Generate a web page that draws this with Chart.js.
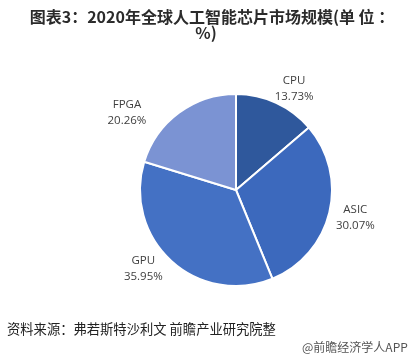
<!DOCTYPE html>
<html lang="zh">
<head>
  <meta charset="UTF-8">
  <title>2020年全球人工智能芯片市场规模</title>
  <script src="https://cdn.jsdelivr.net/npm/chart.js"></script>
  <style>
    html, body { margin: 0; padding: 0; background: #fff; }
    #chartContainer { width: 417px; height: 363px; }
  </style>
</head>
<body>
  <div id="chartContainer">
    <canvas id="myChart"></canvas>
  </div>

  <script>
    const categories = ['CPU', 'ASIC', 'GPU', 'FPGA'];
    const shares = [13.73, 30.07, 35.95, 20.26];
    const sliceColors = ['#2f589c', '#3c69bd', '#4471c4', '#7b93d3'];

    const titleLines = ['图表3：2020年全球人工智能芯片市场规模(单 位 ：', '%)'];
    const sourceText = '资料来源：弗若斯特沙利文 前瞻产业研究院整';
    const brandText = '@前瞻经济学人APP';

    // label block nudges from the outer middle of each slice
    const labelNudge = [[18, -14], [26, 5], [-28, 8], [-52, 0]];

    const textPlugin = {
      id: 'textPlugin',
      afterDraw(chart) {
        const ctx = chart.ctx;
        ctx.save();

        // title
        ctx.fillStyle = '#2b2b2b';
        ctx.textAlign = 'center';
        ctx.textBaseline = 'middle';
        ctx.font = 'bold 16px "Noto Sans CJK SC", sans-serif';
        ctx.fillText(titleLines[0], 212, 17);
        ctx.fillText(titleLines[1], 206, 33);

        // slice labels
        const meta = chart.getDatasetMeta(0);
        ctx.font = '11.5px "Open Sans", sans-serif';
        ctx.fillStyle = '#404040';
        meta.data.forEach((arc, i) => {
          const p = arc.getProps(['x', 'y', 'startAngle', 'endAngle', 'outerRadius'], true);
          const mid = (p.startAngle + p.endAngle) / 2;
          const x = p.x + Math.cos(mid) * p.outerRadius + labelNudge[i][0];
          const y = p.y + Math.sin(mid) * p.outerRadius + labelNudge[i][1];
          ctx.fillText(categories[i], x, y - 8);
          ctx.fillText(shares[i].toFixed(2) + '%', x, y + 8);
        });

        // source and brand
        ctx.textAlign = 'left';
        ctx.fillStyle = '#222222';
        ctx.font = '13.3px "Noto Sans CJK SC", sans-serif';
        ctx.fillText(sourceText, 7, 329);
        ctx.fillStyle = '#555555';
        ctx.font = '12px "Noto Sans CJK SC", sans-serif';
        ctx.fillText(brandText, 302, 347);

        ctx.restore();
      }
    };

    const ctx = document.getElementById('myChart').getContext('2d');
    new Chart(ctx, {
      type: 'pie',
      data: {
        labels: categories,
        datasets: [{
          data: shares,
          backgroundColor: sliceColors,
          borderColor: '#ffffff',
          borderWidth: 2
        }]
      },
      options: {
        responsive: true,
        maintainAspectRatio: false,
        animation: false,
        layout: {
          padding: { top: 93, bottom: 76, left: 139, right: 84 }
        },
        plugins: {
          legend: { display: false },
          tooltip: { enabled: false },
          title: { display: false }
        }
      },
      plugins: [textPlugin]
    });
  </script>
</body>
</html>
